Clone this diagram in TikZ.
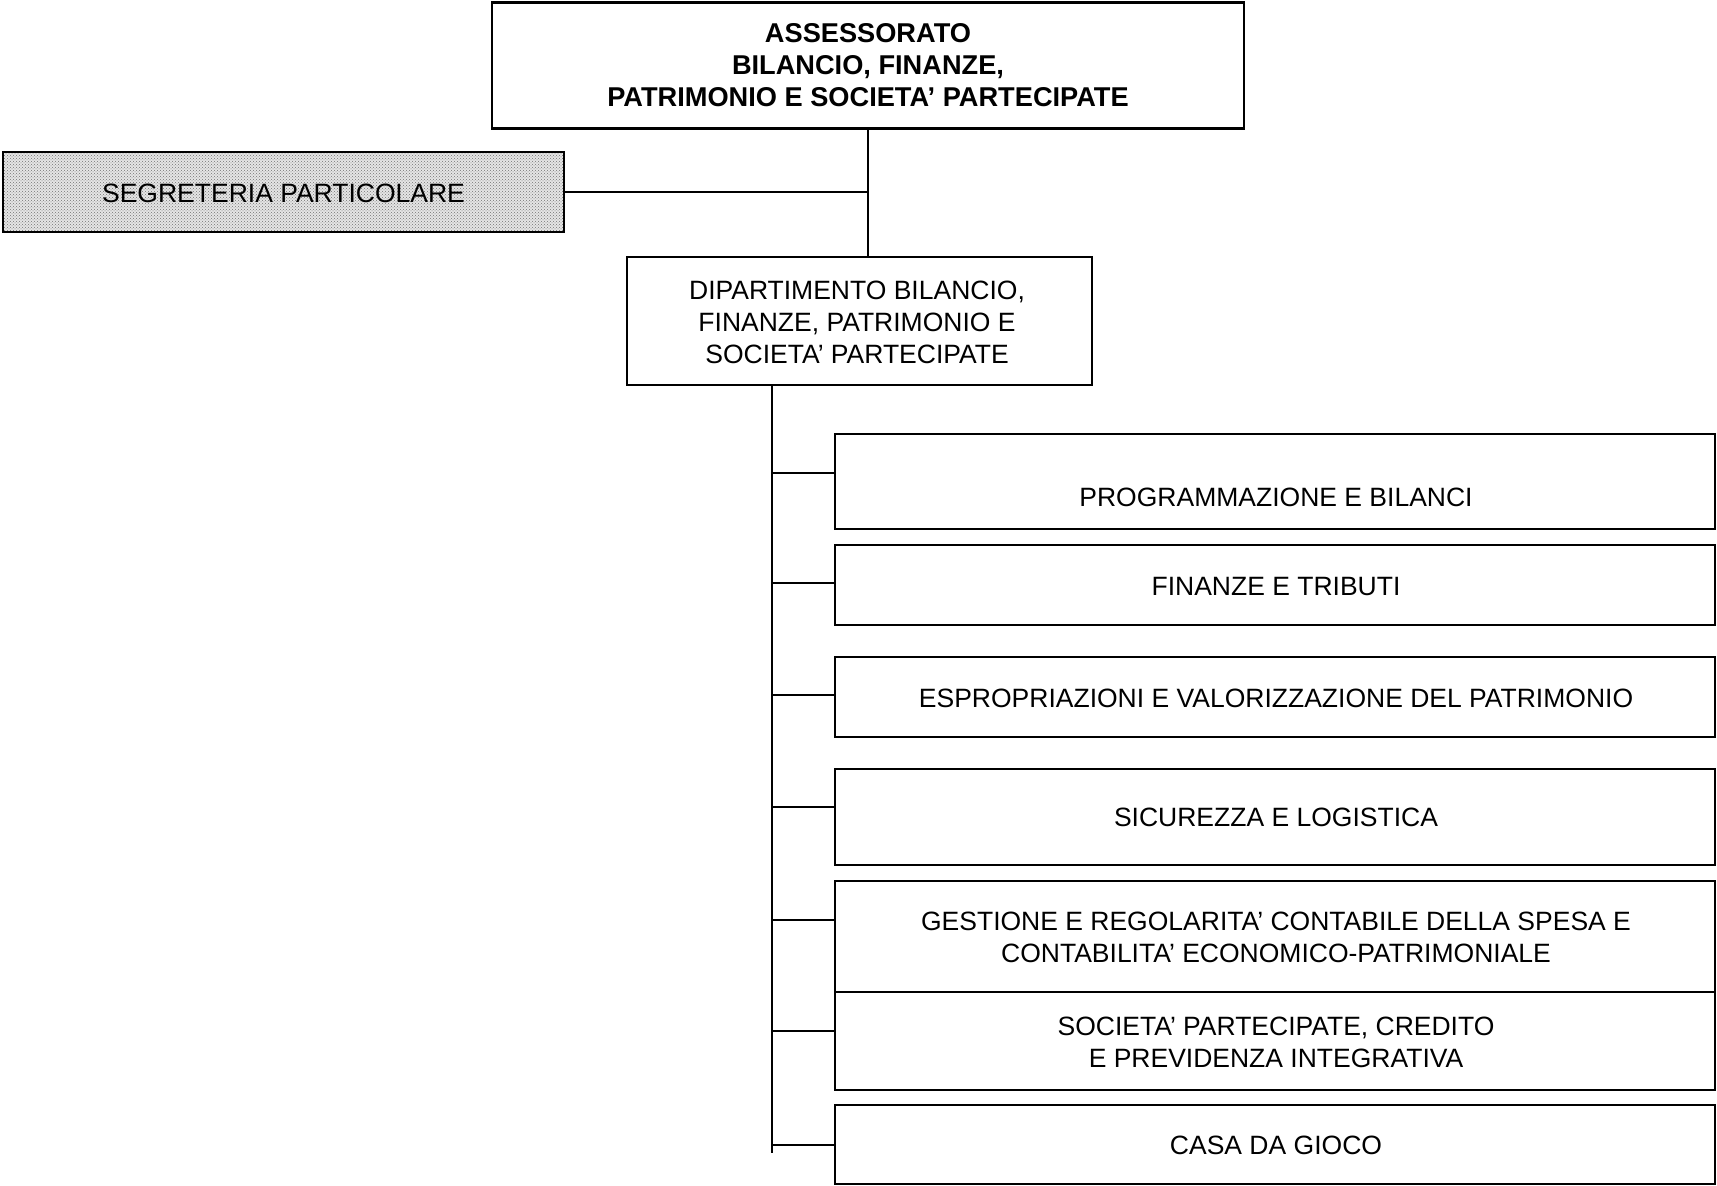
\documentclass[tikz,border=0pt]{standalone}
\usepackage{fontspec}
\setmainfont{Liberation Sans}
\usetikzlibrary{patterns}
\begin{document}
\begin{tikzpicture}[x=1pt,y=-1pt,
  box/.style={draw, line width=2.6pt, inner sep=0pt, outer sep=0pt},
  link/.style={line width=1.8pt},
  lbl/.style={font=\fontsize{26.5}{32}\selectfont, align=center, inner sep=0pt},
  one/.style={lbl, text height=19pt, text depth=0pt},
]
\useasboundingbox (0,0) rectangle (1717,1186);

% head office and its secretariat
\node[box, minimum width=752pt, minimum height=126pt] (top) at (868,65.5) {};
\node[box, fill=black!10, minimum width=561pt, minimum height=80pt] (seg) at (283.5,192) {};
\fill[pattern=crosshatch dots, pattern color=black!55] (seg.south west) rectangle (seg.north east);
\draw[line width=2.6pt] (seg.south west) rectangle (seg.north east);
\node[box, minimum width=465pt, minimum height=128pt] (dip) at (859.5,321) {};

% offices under the department
\node[box, minimum width=880pt, minimum height=95pt] (b1) at (1275,481.5) {};
\node[box, minimum width=880pt, minimum height=80pt] (b2) at (1275,585) {};
\node[box, minimum width=880pt, minimum height=80pt] (b3) at (1275,697) {};
\node[box, minimum width=880pt, minimum height=96pt] (b4) at (1275,817) {};
\node[box, minimum width=880pt, minimum height=111pt] (b5) at (1275,936.5) {};
\node[box, minimum width=880pt, minimum height=98pt] (b6) at (1275,1041) {};
\node[box, minimum width=880pt, minimum height=79pt] (b7) at (1275,1144.5) {};

% labels
\node[lbl, font=\fontsize{27.2}{32}\selectfont\bfseries] (ttop) at (868,65.5)
  {ASSESSORATO\\BILANCIO, FINANZE,\\PATRIMONIO E SOCIETA’ PARTECIPATE};
\node[one] (tseg) at (283.5,193) {SEGRETERIA PARTICOLARE};
\node[lbl] (tdip) at (857,322)
  {DIPARTIMENTO BILANCIO,\\FINANZE, PATRIMONIO E\\ SOCIETA’ PARTECIPATE};
\node[one] (t1) at (1276,497) {PROGRAMMAZIONE E BILANCI};
\node[one] (t2) at (1276,586) {FINANZE E TRIBUTI};
\node[one] (t3) at (1276,698) {ESPROPRIAZIONI E VALORIZZAZIONE DEL PATRIMONIO};
\node[one] (t4) at (1276,817) {SICUREZZA E LOGISTICA};
\node[lbl] (t5) at (1276,937)
  {GESTIONE E REGOLARITA’ CONTABILE DELLA SPESA E\\CONTABILITA’ ECONOMICO-PATRIMONIALE};
\node[lbl] (t6) at (1276,1042)
  {SOCIETA’ PARTECIPATE, CREDITO\\E PREVIDENZA INTEGRATIVA};
\node[one] (t7) at (1276,1145) {CASA DA GIOCO};

% connectors
\draw[link] (top.south) -- (top.south |- dip.north);
\draw[link] (seg.east) -- (seg.east -| top.south);

\coordinate (spine) at (772,385);
\coordinate (spineend) at (772,1153);
\draw[link] (spine) -- (spineend);
\coordinate (j1) at (772,473);
\coordinate (j2) at (772,583);
\coordinate (j3) at (772,695);
\coordinate (j4) at (772,807);
\coordinate (j5) at (772,920);
\coordinate (j6) at (772,1031);
\coordinate (j7) at (772,1145);
\draw[link] (j1) -- (j1 -| b1.west);
\draw[link] (j2) -- (j2 -| b2.west);
\draw[link] (j3) -- (j3 -| b3.west);
\draw[link] (j4) -- (j4 -| b4.west);
\draw[link] (j5) -- (j5 -| b5.west);
\draw[link] (j6) -- (j6 -| b6.west);
\draw[link] (j7) -- (j7 -| b7.west);
\end{tikzpicture}
\end{document}
